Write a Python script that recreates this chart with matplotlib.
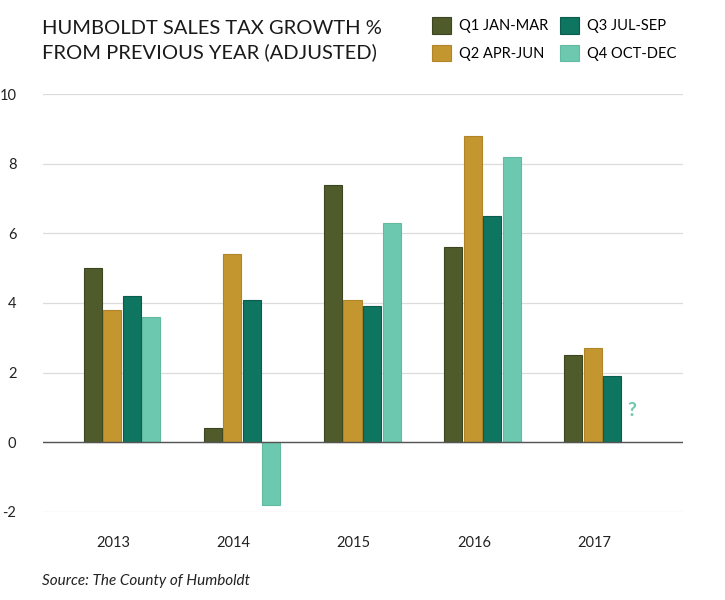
import matplotlib.pyplot as plt
import numpy as np

years = ["2013", "2014", "2015", "2016", "2017"]
quarters = ["Q1 JAN-MAR", "Q2 APR-JUN", "Q3 JUL-SEP", "Q4 OCT-DEC"]
q1 = [5.0, 0.4, 7.4, 5.6, 2.5]
q2 = [3.8, 5.4, 4.1, 8.8, 2.7]
q3 = [4.2, 4.1, 3.9, 6.5, 1.9]
q4 = [3.6, -1.8, 6.3, 8.2, np.nan]
yticks = [-2, 0, 2, 4, 6, 8, 10]

colors = ["#4f5b2a", "#c4962f", "#0e7560", "#6cc8ae"]
edges = ["#3b4520", "#b08428", "#0a5c4b", "#62bba1"]

plt.rcParams['font.family'] = ['Lato', 'DejaVu Sans']

fig = plt.figure(figsize=(7.25, 6), dpi=100)
ax = fig.add_axes([0.059, 0.1467, 0.883, 0.6966])

x = np.arange(len(years))
step = 0.1625
width = 0.15
handles = []
for i, vals in enumerate([q1, q2, q3, q4]):
    b = ax.bar(x + (i - 1.5) * step, vals, width=width, color=colors[i],
               edgecolor=edges[i], linewidth=0.8, zorder=3, label=quarters[i])
    handles.append(b)

# missing Q4 2017
ax.text(x[4] + 1.5 * step, 0.9, "?", color=colors[3], fontsize=14,
        fontweight='bold', ha='center', va='center')

ax.set_xlim(-0.66, 4.67)
ax.set_ylim(-2, 10)
ax.set_yticks(yticks)
ax.set_yticklabels([str(t) for t in yticks])
ax.set_xticks(x - 0.07)
ax.set_xticklabels(years)
ax.tick_params(axis='both', length=0, labelsize=10.5, colors='#222222')
ax.tick_params(axis='y', pad=19)
ax.tick_params(axis='x', pad=17)
ax.grid(axis='y', color='#dcdcdc', linewidth=0.9, zorder=0)
ax.axhline(0, color='#555555', linewidth=1.0, zorder=4)
for s in ax.spines.values():
    s.set_visible(False)

fig.text(0.058, 0.967, "HUMBOLDT SALES TAX GROWTH %\nFROM PREVIOUS YEAR (ADJUSTED)",
         fontsize=14.5, color='#1a1a1a', va='top',
         ha='left', linespacing=1.45)

fig.legend(handles=handles, labels=quarters, ncol=2, loc='upper left',
           bbox_to_anchor=(0.578, 0.993), frameon=False, fontsize=10.5,
           handlelength=1.3, handleheight=1.35, handletextpad=0.55,
           columnspacing=0.8, labelspacing=0.75)

fig.text(0.058, 0.02, "Source: The County of Humboldt", fontsize=11,
         style='italic', color='#222222', ha='left', va='bottom')

fig.savefig("out.png", dpi=100)
